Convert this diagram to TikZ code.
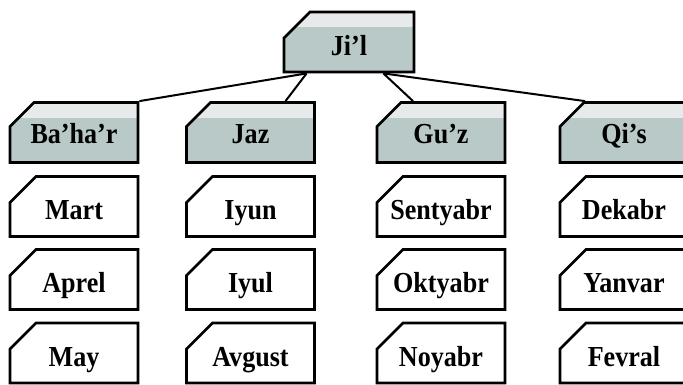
\documentclass[tikz,border=0pt]{standalone}
\usepackage{fontspec}
\setmainfont{Liberation Serif}
\newfontfamily\qutifont{Liberation Serif}[FakeStretch=0.9]
\usetikzlibrary{shapes.misc,backgrounds}
\definecolor{kulrang}{RGB}{185,201,200}
\definecolor{ochiq}{RGB}{230,234,234}
\definecolor{ipchiziq}{RGB}{200,200,200}
\begin{document}
\begin{tikzpicture}[x=1pt,y=-1pt]
    % ===================================
    % Sozlamalar
    % ===================================
    \def\w{128}   % quti eni
    \def\h{60}    % quti balandligi
    \def\ra{132.5} % fasllar qatori
    \def\rb{206.5} % 1-oy qatori
    \def\rc{279.5} % 2-oy qatori
    \def\rd{353}   % 3-oy qatori

    \tikzset{
        box/.style={chamfered rectangle, chamfered rectangle corners=north west,
            chamfered rectangle xsep=25pt, chamfered rectangle ysep=13pt,
            draw=black, line width=2.8pt, fill=white, inner sep=0pt,
            minimum width=\w pt, minimum height=\h pt,
            text height=26pt, text depth=0pt,
            font=\qutifont\fontsize{29}{32}\selectfont\bfseries},
        season/.style={box, fill=kulrang, text height=22pt,
            path picture={\fill[ochiq] (path picture bounding box.north west)
                rectangle ([yshift=-15pt]path picture bounding box.north east);}},
        month/.style={box},
        link/.style={line width=2pt},
        faint/.style={ipchiziq, line width=0.8pt}
    }
    % ===================================

    \clip (0,0) rectangle (683,384);
    \fill[white] (0,0) rectangle (683,384);

    % 1. Yuqoridagi quti
    \node[season, minimum width=130pt, text height=26pt] (jil) at (349,42) {Ji’l};

    % 2. Fasllar va oylar
    \foreach \c/\x/\s/\ma/\mb/\mc in {1/74/Ba’ha’r/Mart/Aprel/May,
                                      2/250.5/Jaz/Iyun/Iyul/Avgust,
                                      3/441/Gu’z/Sentyabr/Oktyabr/Noyabr,
                                      4/624/Qi’s/Dekabr/Yanvar/Fevral} {
        \node[season] (s\c) at (\x,\ra) {\s};
        \node[month] (m\c a) at (\x,\rb) {\ma};
        \node[month] (m\c b) at (\x,\rc) {\mb};
        \node[month] (m\c c) at (\x,\rd) {\mc};
    }

    % 3. Chiziqlar
    \begin{scope}[on background layer]
        \foreach \c in {1,2,3,4} {
            \draw[faint] (s\c) -- (m\c a);
            \draw[faint] (m\c a) -- (m\c b);
            \draw[faint] (m\c b) -- (m\c c);
        }
    \end{scope}
    \coordinate (jl) at ([xshift=24pt]jil.south west);
    \coordinate (jr) at ([xshift=-32pt]jil.south east);
    \draw[link] (jl) -- (s1.north east);
    \draw[link] (jl) -- ([xshift=35pt]s2.north);
    \draw[link] (jr) -- ([xshift=-28pt]s3.north);
    \draw[link] (jr) -- ([xshift=-39pt]s4.north);
\end{tikzpicture}
\end{document}
